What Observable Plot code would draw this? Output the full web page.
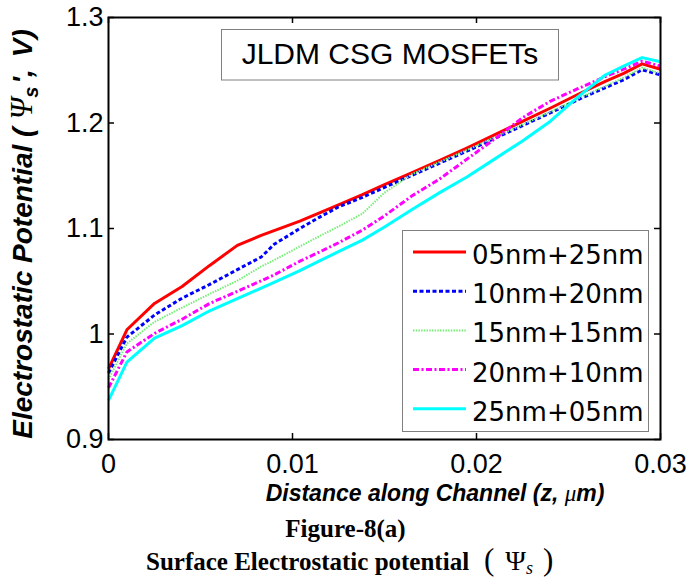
<!DOCTYPE html>
<html>
<head>
<meta charset="utf-8">
<script src="https://cdn.jsdelivr.net/npm/d3@7"></script>
<script src="https://cdn.jsdelivr.net/npm/@observablehq/plot@0.6"></script>
<style>
  body { margin: 0; background: #fff; }
  #fig { width: 690px; height: 580px; }
</style>
</head>
<body>
<div id="fig"></div>
<script>
// Distance along the channel (µm), shared by every curve
const z = [0, 0.001, 0.0025, 0.004, 0.0055, 0.007, 0.0083, 0.009, 0.0104, 0.0115, 0.0125,
           0.0138, 0.015, 0.0165, 0.018, 0.0195, 0.021, 0.0225, 0.024, 0.0255, 0.027, 0.028, 0.029, 0.03];

// Surface potential (V) for each gate-length split
const psi05_25 = [0.967, 1.004, 1.029, 1.045, 1.065, 1.084, 1.0935, 1.098, 1.107, 1.115, 1.1225,
                  1.132, 1.1415, 1.153, 1.1645, 1.1765, 1.189, 1.2015, 1.214, 1.227, 1.2395, 1.247, 1.256, 1.251];
const psi10_20 = [0.963, 0.997, 1.018, 1.034, 1.047, 1.061, 1.073, 1.085, 1.100, 1.111, 1.1205,
                  1.1295, 1.139, 1.1505, 1.162, 1.1735, 1.1855, 1.1975, 1.2095, 1.222, 1.2335, 1.241, 1.2505, 1.2455];
const psi15_15 = [0.957, 0.991, 1.0115, 1.025, 1.038, 1.0505, 1.064, 1.070, 1.083, 1.093, 1.102,
                  1.114, 1.134, 1.1515, 1.163, 1.1745, 1.1865, 1.1985, 1.2105, 1.223, 1.235, 1.243, 1.2525, 1.247];
const psi20_10 = [0.949, 0.983, 1.0005, 1.014, 1.029, 1.0405, 1.0505, 1.056, 1.069, 1.078, 1.0865,
                  1.0985, 1.112, 1.131, 1.147, 1.166, 1.185, 1.205, 1.2205, 1.2325, 1.244, 1.251, 1.2585, 1.254];
const psi25_05 = [0.937, 0.9734, 0.996, 1.008, 1.022, 1.0335, 1.0435, 1.049, 1.060, 1.0695, 1.078,
                  1.089, 1.1015, 1.118, 1.134, 1.149, 1.166, 1.183, 1.2015, 1.2245, 1.2455, 1.254, 1.262, 1.258];

const seriesNames = ["05nm+25nm", "10nm+20nm", "15nm+15nm", "20nm+10nm", "25nm+05nm"];
const seriesValues = [psi05_25, psi10_20, psi15_15, psi20_10, psi25_05];

const xTicks = [0, 0.01, 0.02, 0.03];
const xTickLabels = ["0", "0.01", "0.02", "0.03"];
const yTicks = [0.9, 1, 1.1, 1.2, 1.3];
const yTickLabels = ["0.9", "1", "1.1", "1.2", "1.3"];

// Line appearance per series (MATLAB-like colours and dash patterns)
const lineStyles = [
  {stroke: "#ff0000", strokeWidth: 3, dash: undefined},
  {stroke: "#0000ff", strokeWidth: 3, dash: "4,2.5"},
  {stroke: "#77ee77", strokeWidth: 2, dash: "1.5,1.2"},
  {stroke: "#ff00ff", strokeWidth: 3, dash: "6,2.5,2,2.5"},
  {stroke: "#00ffff", strokeWidth: 3, dash: undefined}
];

const rows = seriesNames.flatMap((name, k) =>
  z.map((zv, i) => ({series: name, z: zv, psi: seriesValues[k][i]})));

const W = 690, H = 580;
const mL = 108, mR = 30, mT = 17, mB = 141;
const innerW = W - mL - mR, innerH = H - mT - mB;
const tickLen = 6;

const lineMarks = seriesNames.map((name, k) =>
  Plot.line(rows.filter(d => d.series === name), {
    x: "z", y: "psi",
    stroke: lineStyles[k].stroke,
    strokeWidth: lineStyles[k].strokeWidth,
    strokeDasharray: lineStyles[k].dash,
    strokeLinecap: "butt",
    strokeLinejoin: "round"
  }));

const svg = Plot.plot({
  width: W, height: H,
  marginLeft: mL, marginRight: mR, marginTop: mT, marginBottom: mB,
  style: {fontFamily: "'Liberation Sans', Arial, sans-serif", fontSize: "27px", color: "black", background: "white"},
  x: {domain: [0, 0.03]},
  y: {domain: [0.9, 1.3]},
  marks: [
    Plot.axisX({ticks: xTicks, tickSize: 0, tickPadding: 14, label: null,
                tickFormat: d => xTickLabels[xTicks.indexOf(d)]}),
    Plot.axisY({ticks: yTicks, tickSize: 0, tickPadding: 5, label: null,
                tickFormat: d => yTickLabels[yTicks.indexOf(d)]}),
    ...lineMarks,
    // inward ticks on all four sides
    Plot.tickX(xTicks, {x: d => d, insetTop: innerH - tickLen, stroke: "black", strokeWidth: 1.5}),
    Plot.tickX(xTicks, {x: d => d, insetBottom: innerH - tickLen, stroke: "black", strokeWidth: 1.5}),
    Plot.tickY(yTicks, {y: d => d, insetRight: innerW - tickLen, stroke: "black", strokeWidth: 1.5}),
    Plot.tickY(yTicks, {y: d => d, insetLeft: innerW - tickLen, stroke: "black", strokeWidth: 1.5}),
    Plot.frame({stroke: "black", strokeWidth: 2})
  ]
});

const root = d3.select(svg);

// Title box
const tb = root.append("g").attr("text-anchor", "middle");
tb.append("rect").attr("x", 221.5).attr("y", 29.5).attr("width", 337).attr("height", 50.5)
  .attr("fill", "white").attr("stroke", "#808080").attr("stroke-width", 1);
tb.append("text").attr("x", 390).attr("y", 64)
  .style("font-family", "'Liberation Sans', Arial, sans-serif").style("font-size", "30px")
  .attr("fill", "black").text("JLDM CSG MOSFETs");

// Legend
const lg = root.append("g").attr("text-anchor", "start");
lg.append("rect").attr("x", 402.5).attr("y", 230.5).attr("width", 246).attr("height", 201)
  .attr("fill", "white").attr("stroke", "#808080").attr("stroke-width", 1);
seriesNames.forEach((name, k) => {
  const yy = 252 + k * 39.2;
  lg.append("line").attr("x1", 413).attr("x2", 466).attr("y1", yy).attr("y2", yy)
    .attr("stroke", lineStyles[k].stroke).attr("stroke-width", lineStyles[k].strokeWidth)
    .attr("stroke-dasharray", lineStyles[k].dash ?? null);
  lg.append("text").attr("x", 472).attr("y", yy + 12)
    .style("font-family", "'DejaVu Sans', sans-serif").style("font-size", "26px")
    .attr("fill", "black").text(name);
});

// Y axis label (rotated), with Greek symbol and subscript
const yl = root.append("text")
  .attr("transform", "translate(32,234) rotate(-90)")
  .attr("text-anchor", "middle")
  .style("font-family", "'Liberation Sans', Arial, sans-serif")
  .style("font-size", "28px").style("font-weight", "bold").style("font-style", "italic")
  .attr("fill", "black");
yl.append("tspan").text("Electrostatic Potential (");
yl.append("tspan").attr("dx", 8).style("font-family", "'Liberation Serif', serif").style("font-weight", "normal")
  .style("font-size", "31px").text("\u03A8");
yl.append("tspan").attr("dy", 6).style("font-size", "20px").text("s");
yl.append("tspan").attr("dy", -6).attr("dx", 3).text("',");
yl.append("tspan").attr("dx", 12).text("V)");

// X axis label
const xl = root.append("text")
  .attr("x", 435).attr("y", 501).attr("text-anchor", "middle")
  .style("font-family", "'Liberation Sans', Arial, sans-serif")
  .style("font-size", "23px").style("font-weight", "bold").style("font-style", "italic")
  .attr("fill", "black");
xl.append("tspan").text("Distance along Channel (z, ");
xl.append("tspan").style("font-family", "'Liberation Serif', serif").style("font-weight", "normal").text("\u03BC");
xl.append("tspan").text("m)");

// Figure captions
const serif = "'Liberation Serif', 'Times New Roman', serif";
const cap = root.append("g").attr("text-anchor", "start");
cap.append("text").attr("x", 345.5).attr("y", 537).attr("text-anchor", "middle")
  .style("font-family", serif).style("font-size", "25px").style("font-weight", "bold")
  .attr("fill", "black").text("Figure-8(a)");
cap.append("text").attr("x", 146).attr("y", 570)
  .style("font-family", serif).style("font-size", "25px").style("font-weight", "bold")
  .attr("fill", "black").text("Surface Electrostatic potential");
const ps = cap.append("text").attr("x", 484).attr("y", 570)
  .style("font-family", serif).style("font-size", "28px").attr("fill", "black");
ps.append("tspan").style("font-size", "31px").text("(");
ps.append("tspan").attr("dx", 11).text("\u03A8");
ps.append("tspan").attr("dy", 4).style("font-size", "18px").style("font-style", "italic").text("s");
ps.append("tspan").attr("dy", -4).attr("dx", 10).style("font-size", "31px").text(")");

document.getElementById("fig").appendChild(svg);
</script>
</body>
</html>
